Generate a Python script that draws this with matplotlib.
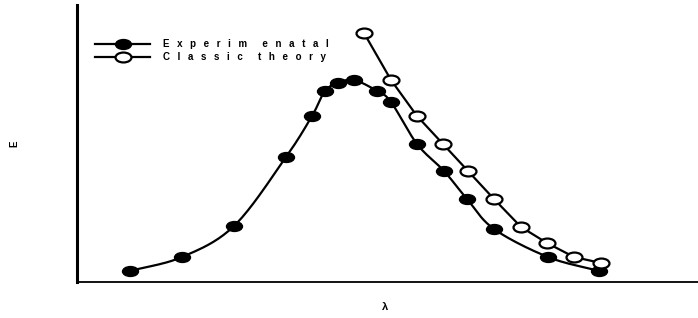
import numpy as np
import matplotlib.pyplot as plt
from matplotlib.path import Path

# data (arbitrary units)
exp_x = [53, 105, 157, 209, 235, 248, 261, 277, 300, 314, 340, 367, 390, 417, 471, 522]
exp_y = [11, 25, 56, 125, 166, 191, 199, 202, 191, 180, 138, 111, 83, 53, 25, 11]
cls_x = [287, 314, 340, 366, 391, 417, 444, 470, 497, 524]
cls_y = [249, 202, 166, 138, 111, 83, 55, 39, 25, 19]
labels = ["Experim enatal", "Classic theory"]


def spaced(s):
    # wide letter tracking like the original
    gap = " \u2002"
    return gap.join(s).replace(gap + " " + gap, gap + gap)


def smooth(x, y, n=20):
    # catmull-rom through the measured points, only for drawing the curve
    p = np.column_stack([x, y]).astype(float)
    p = np.vstack([2 * p[0] - p[1], p, 2 * p[-1] - p[-2]])
    out = []
    t = np.linspace(0, 1, n, endpoint=False)[:, None]
    for i in range(1, len(p) - 2):
        p0, p1, p2, p3 = p[i - 1], p[i], p[i + 1], p[i + 2]
        seg = 0.5 * ((2 * p1) + (-p0 + p2) * t + (2 * p0 - 5 * p1 + 4 * p2 - p3) * t ** 2
                     + (-p0 + 3 * p1 - 3 * p2 + p3) * t ** 3)
        out.append(seg)
    out.append(p[-2][None, :])
    out = np.vstack(out)
    return out[:, 0], out[:, 1]


# flattened ellipse marker
circ = Path.unit_circle()
ell = Path(circ.vertices * [1.0, 0.62], circ.codes)

plt.rcParams['font.family'] = ['Liberation Sans', 'DejaVu Sans']

fig = plt.figure(figsize=(6.98, 3.18), dpi=100)
ax = fig.add_axes([77 / 698, 36 / 318, 621 / 698, 277 / 318])

sx, sy = smooth(exp_x, exp_y)
ax.plot(sx, sy, color='black', lw=1.6, zorder=2)
ax.plot(exp_x, exp_y, ls='none', marker=ell, ms=11.5, mfc='black', mec='black', zorder=3)
ax.plot(cls_x, cls_y, color='black', lw=1.6, marker=ell, ms=11.5, mfc='white',
        mec='black', mew=1.6, zorder=3)

h1, = ax.plot([], [], color='black', lw=1.6, marker=ell, ms=11.5, mfc='black', mec='black')
h2, = ax.plot([], [], color='black', lw=1.6, marker=ell, ms=11.5, mfc='white', mec='black', mew=1.6)
ax.legend([h1, h2], [spaced(s) for s in labels], loc='upper left',
          bbox_to_anchor=(95 / 698, 1 - 39 / 318),
          bbox_transform=fig.transFigure, frameon=False, numpoints=1,
          prop={'weight': 'bold', 'size': 7}, handlelength=5.7, handletextpad=1.3,
          labelspacing=0.35, borderpad=0, borderaxespad=0)

ax.set_xlim(0, 621)
ax.set_ylim(0, 277)
ax.set_xticks([])
ax.set_yticks([])
ax.spines['top'].set_visible(False)
ax.spines['right'].set_visible(False)
ax.spines['left'].set_linewidth(2.2)
ax.spines['bottom'].set_linewidth(1.3)

fig.text(385 / 698, 1 - 307 / 318, 'λ', ha='center', va='center', fontsize=8, weight='bold')
fig.text(14.5 / 698, 1 - 143.5 / 318, 'E', ha='center', va='center', fontsize=7, weight='bold',
         rotation=90)

fig.savefig('out.png', dpi=100)
